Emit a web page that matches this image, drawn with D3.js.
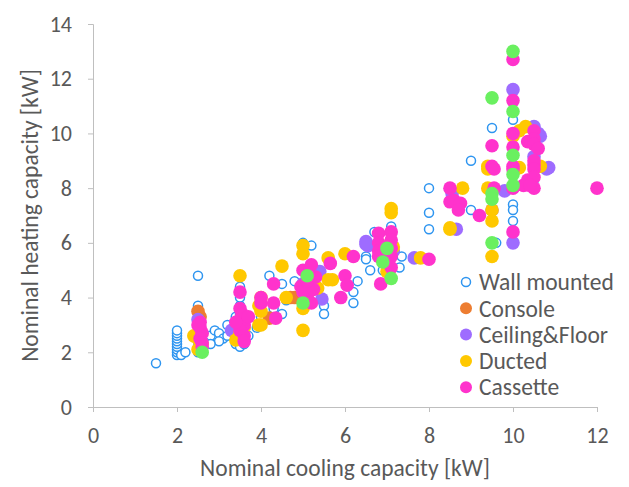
<!DOCTYPE html>
<html lang="en">
<head>
    <meta charset="utf-8">
    <title>Nominal heating vs cooling capacity</title>
    <script src="https://d3js.org/d3.v7.min.js"></script>
    <style>
        body { margin: 0; background: #fff; }
        text { font-family: Carlito, Calibri, Lato, sans-serif; fill: #595959; }
    </style>
</head>
<body>
<svg width="629" height="487"></svg>
<script>
    // data: [cooling kW, heating kW]
    var wallMounted = [
        [1.5,1.6],
        [2,1.9],[2,2.0],[2,2.1],[2,2.2],[2,2.3],[2,2.4],[2,2.5],[2,2.6],[2,2.7],[2,2.8],[2.1,1.9],[2.2,2.0],
        [2.5,2.0],[2.5,2.2],[2.5,2.4],[2.5,2.6],[2.5,2.8],[2.5,3.0],[2.5,3.2],[2.5,3.4],[2.5,3.6],[2.5,3.7],[2.5,4.8],
        [2.6,2.1],[2.7,2.5],[2.8,2.6],[2.9,2.8],[3.0,2.7],[3.1,2.5],[3.2,3.0],[3.3,2.8],[3.2,2.6],[3.0,2.4],[2.8,2.3],
        [3.4,2.3],[3.4,3.3],[3.5,2.2],[3.5,2.5],[3.5,2.8],[3.5,3.1],[3.5,3.4],[3.5,3.7],[3.5,4.0],[3.5,4.2],[3.5,4.4],[3.6,2.3],[3.7,2.6],
        [3.9,2.9],[4.0,3.3],[4.2,4.8],[4.5,4.5],[4.8,4.6],[4.6,4.0],[4.5,3.4],[4.3,3.6],[5.5,3.7],[5.5,3.4],[5.0,6.0],[5.2,5.9],[4.6,3.9],[5.1,4.4],
        [6.3,4.6],[6.2,4.2],[6.2,3.8],[6.5,5.5],[6.6,5.0],[6.5,5.4],[6.7,6.4],[7.1,6.6],[7.3,5.1],[7.35,5.5],[6.9,5.0],
        [8.0,8.0],[8.0,7.1],[8.0,6.5],[9.0,9.0],[9.5,10.2],[10.0,10.5],[9.0,7.2],[10.0,7.4],[10.0,7.2],[9.5,6.0],[9.6,6.0],[10.0,6.8],[10.5,8.3],[10.5,8.0]
    ];
    var consoleUnits = [
        [2.5,3.5],[2.55,3.3],[4.2,3.25],[4.7,4.0],[4.8,4.0],[4.9,4.0]
    ];
    var ceilingFloor = [
        [2.5,3.2],[3.3,2.8],[5.4,4.95],[5.45,3.95],[6.5,6.05],[6.55,5.9],[6.5,5.95],[7.65,5.45],[7.15,5.7],
        [10.0,11.6],[10.5,10.25],[10.65,9.9],[10.5,9.15],[10.85,8.75],[9.8,7.9],[10.0,6.0],[8.65,6.5],
        [10.8,8.7],[8.55,7.8],[9.5,7.2],[10.6,10.0],[6.9,5.6],[5.0,4.5]
    ];
    var ducted = [
        [2.4,2.6],[2.6,2.3],[2.5,2.5],[2.5,2.1],[3.5,4.8],[3.4,2.45],[3.5,2.7],[3.6,2.9],[3.95,3.0],[3.95,3.7],
        [4.0,3.5],[4.0,3.0],[4.0,4.0],[4.5,5.15],[5.0,5.9],[5.0,5.6],[5.0,3.6],[5.0,2.8],[5.6,5.45],[5.7,4.65],
        [5.6,4.65],[6.0,5.6],[5.35,4.35],[5.1,4.1],[4.6,4.0],[7.1,7.25],[7.1,7.1],[7.8,5.45],[8.5,6.55],[7.05,5.0],
        [7.0,4.95],[7.15,5.85],[10.0,9.9],[10.3,10.25],[10.15,10.1],[9.4,8.8],[8.8,8.0],[9.4,8.7],[9.4,8.0],
        [9.5,7.2],[9.5,6.8],[9.5,5.5],[8.5,6.5],[10.65,8.8],[10.15,8.75]
    ];
    var cassette = [
        [2.55,3.1],[2.55,2.9],[2.6,2.7],[2.55,2.5],[2.6,2.35],[2.6,2.2],[2.5,3.0],
        [3.5,4.2],[3.5,3.6],[3.55,3.4],[3.5,3.2],[3.6,3.0],[3.5,2.8],[3.6,2.6],[3.6,2.4],[3.4,3.1],[3.7,3.3],
        [4.0,4.0],[4.0,3.8],[4.3,3.8],[4.3,4.5],[4.35,3.25],
        [5.0,5.0],[5.2,5.2],[5.3,4.75],[4.95,4.4],[5.0,4.2],[5.1,4.0],[5.2,3.8],[5.25,4.3],[5.1,4.6],[5.65,5.25],
        [6.0,4.8],[6.05,4.45],[5.9,4.0],[6.2,5.5],
        [6.8,6.35],[7.1,6.4],[6.8,6.0],[6.8,5.7],[6.8,5.5],[7.1,6.1],[7.1,5.8],[7.1,5.5],[7.1,5.1],[6.85,4.5],[8.0,5.4],
        [8.5,8.0],[8.5,7.5],[8.6,7.55],[8.75,7.45],[8.7,7.2],[9.2,7.0],
        [10.0,12.7],[10.0,11.2],[9.5,9.55],[10.0,10.0],[10.0,9.5],[10.35,9.7],[10.5,10.1],[10.5,9.8],[10.5,9.6],[10.6,9.45],
        [9.5,8.8],[10.0,8.8],[10.5,8.85],[9.55,8.7],[9.55,8.0],[10.0,8.7],[10.0,8.0],[10.35,8.3],[10.5,9.0],[10.5,8.7],
        [10.5,8.4],[10.5,8.0],[10.25,8.1],[10.4,8.1],[12.0,8.0],[10.0,6.4]
    ];
    // green points, no legend entry in the picture
    var other = [
        [2.6,2.0],[5.1,4.8],[5.0,3.8],[7.0,5.8],[6.9,5.3],[7.1,4.7],[10.0,13.0],[9.5,11.3],[10.0,10.8],
        [10.0,9.2],[10.0,8.5],[10.0,8.1],[9.5,7.8],[9.5,7.6],[9.5,6.0]
    ];

    var xTicks = [0,2,4,6,8,10,12];
    var yTicks = [0,2,4,6,8,10,12,14];

    var seriesNames = ["Wall mounted","Console","Ceiling&Floor","Ducted","Cassette","Other"];
    var seriesData = [wallMounted, consoleUnits, ceilingFloor, ducted, cassette, other];
    var colors = ["#2e95f0","#ed7d31","#9e6cff","#ffc800","#ff33cc","#6af060"];

    var marge = {top:24,bottom:80,left:93,right:32};
    var svg = d3.select("svg");
    var width = 629 - marge.left - marge.right;
    var height = 487 - marge.top - marge.bottom;

    var x = d3.scaleLinear().domain([0,12]).range([0,width]);
    var y = d3.scaleLinear().domain([0,14]).range([height,0]);

    var g = svg.append("g")
        .attr("transform","translate("+marge.left+","+marge.top+")");

    // axes
    var xAxis = g.append("g")
        .attr("transform","translate(0,"+height+")")
        .call(d3.axisBottom(x).tickValues(xTicks).tickSize(5).tickPadding(15));
    var yAxis = g.append("g")
        .call(d3.axisLeft(y).tickValues(yTicks).tickSize(5).tickPadding(16));

    [xAxis,yAxis].forEach(function(a){
        a.select(".domain").attr("stroke","#bfbfbf");
        a.selectAll(".tick line").attr("stroke","#bfbfbf");
        a.selectAll(".tick text").style("font-size","22px").attr("fill","#595959");
    });

    // points, one layer per series
    seriesData.forEach(function(data,i){
        var dots = g.append("g").selectAll("circle")
            .data(data)
            .enter()
            .append("circle")
            .attr("cx",function(d){ return x(d[0]); })
            .attr("cy",function(d){ return y(d[1]); });
        if(i==0){
            dots.attr("r",4.5)
                .attr("fill","#fff")
                .attr("stroke",colors[0])
                .attr("stroke-width",1.5);
        }else{
            dots.attr("r",6.8).attr("fill",colors[i]);
        }
    });

    // axis titles
    svg.append("text")
        .attr("x",marge.left+width/2)
        .attr("y",476)
        .attr("text-anchor","middle")
        .style("font-size","23.5px")
        .text("Nominal cooling capacity [kW]");
    svg.append("text")
        .attr("transform","translate(38,"+(marge.top+height/2)+") rotate(-90)")
        .attr("text-anchor","middle")
        .style("font-size","23.5px")
        .text("Nominal heating capacity [kW]");

    // legend
    var legend = svg.append("g").attr("transform","translate(466,282)");
    seriesNames.slice(0,5).forEach(function(name,i){
        var row = legend.append("g").attr("transform","translate(0,"+(i*26.3)+")");
        if(i==0){
            row.append("circle").attr("r",4.5).attr("fill","#fff")
                .attr("stroke",colors[0]).attr("stroke-width",1.5);
        }else{
            row.append("circle").attr("r",6).attr("fill",colors[i]);
        }
        row.append("text")
            .attr("x",13)
            .attr("dy","0.35em")
            .style("font-size","23.5px")
            .text(name);
    });
</script>
</body>
</html>
